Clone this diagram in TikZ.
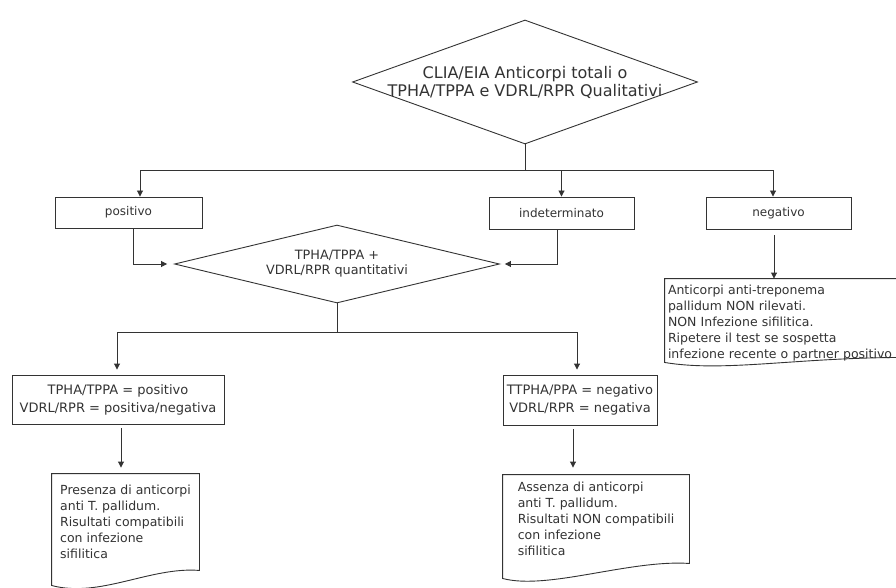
\documentclass[tikz,border=0pt]{standalone}
\usepackage{fontspec}
\setmainfont{DejaVu Sans}
\usetikzlibrary{shapes.geometric,arrows.meta}

\begin{document}
\begin{tikzpicture}[x=1pt,y=-1pt,line width=0.9pt,color=black!80,>={Triangle[length=6pt,width=6pt]}]
\tikzstyle{every node}+=[inner sep=0pt]
\tikzstyle{rombo}=[draw,diamond]
\tikzstyle{domanda}=[align=center,font=\fontsize{16}{18}\selectfont]
\tikzstyle{domanda2}=[align=center,font=\fontsize{12.8}{15}\selectfont]
\tikzstyle{casella}=[draw,rectangle,align=center,font=\fontsize{12}{15}\selectfont]
\tikzstyle{esito}=[draw,rectangle,align=center,font=\fontsize{13}{18}\selectfont]
\tikzstyle{foglio}=[rectangle,align=left,font=\fontsize{12.5}{16}\selectfont]
\clip (0,0) rectangle (896,588);
\fill[white] (0,0) rectangle (896,588);
\node (test) at (525,82) [rombo,minimum width=345pt,minimum height=124pt,
  label={[domanda]center:CLIA/EIA Anticorpi totali o\\TPHA/TPPA e VDRL/RPR Qualitativi}] {};
\node (pos) at (128.5,212.5) [casella,minimum width=147pt,minimum height=31pt] {positivo};
\node (ind) at (561.5,213) [casella,minimum width=145pt,minimum height=32pt] {indeterminato};
\node (negv) at (778.5,213) [casella,minimum width=145pt,minimum height=32pt] {negativo};
\node (quant) at (337,264) [rombo,minimum width=325pt,minimum height=78pt,
  label={[domanda2]center:TPHA/TPPA +\\VDRL/RPR quantitativi}] {};
\node (resPos) at (118,399.5) [esito,minimum width=212pt,minimum height=49pt] {TPHA/TPPA = positivo\\VDRL/RPR = positiva/negativa};
\node (resNeg) at (580,400) [esito,minimum width=154pt,minimum height=50pt] {TTPHA/PPA = negativo\\VDRL/RPR = negativa};
\node (nonRil) at (785,323.5) [foglio,text width=234pt,inner xsep=3pt,minimum height=89pt] {Anticorpi anti-treponema\\pallidum NON rilevati.\\NON Infezione sifilitica.\\Ripetere il test se sospetta\\infezione recente o partner positivo};
\node (presenza) at (125.5,522) [foglio,minimum width=147pt,minimum height=96pt] {Presenza di anticorpi\\anti T. pallidum.\\Risultati compatibili\\con infezione\\sifilitica};
\node (assenza) at (596,519) [foglio,minimum width=186pt,minimum height=88pt] {Assenza di anticorpi\\anti T. pallidum.\\Risultati NON compatibili\\con infezione\\sifilitica};
\draw (presenza.north west) -- (presenza.north east) -- (presenza.south east) .. controls +(-49,-4) and +(48,13) .. ([yshift=-15pt]presenza.south west) -- cycle;
\draw (assenza.north west) -- (assenza.north east) -- (assenza.south east) .. controls +(-60,-4) and +(45,12) .. ([yshift=-15pt]assenza.south west) -- cycle;
\draw ([yshift=11pt]nonRil.south east) .. controls +(-110,0) and +(60,10) .. ([yshift=6pt]nonRil.south west) -- (nonRil.north west) -- (nonRil.north east) -- cycle;
\coordinate (bivio) at (525,170);
\draw (test.south) -- (bivio);
\draw[->] (bivio) -| ([xshift=11.5pt]pos.north);
\draw[->] (bivio) -| (ind.north);
\draw[->] (bivio) -| ([xshift=-5.5pt]negv.north);
\draw[->,shorten >=7pt] ([xshift=4.5pt]pos.south) |- (quant.west);
\draw[->,shorten >=5pt] ([xshift=-4.5pt]ind.south) |- (quant.east);
\draw[->,shorten <=6pt] ([xshift=-4.5pt]negv.south) -- ([xshift=-11pt]nonRil.north);
\coordinate (bivio2) at (337,332);
\draw (quant.south) -- (bivio2);
\draw[->,shorten >=5pt] (bivio2) -| ([xshift=-1pt]resPos.north);
\draw[->,shorten >=5pt] (bivio2) -| ([xshift=-3pt]resNeg.north);
\draw[->,shorten <=4pt,shorten >=6pt] ([xshift=3pt]resPos.south) -- ([xshift=-4.5pt]presenza.north);
\draw[->,shorten <=4pt,shorten >=7pt] ([xshift=-7pt]resNeg.south) -- ([xshift=-23pt]assenza.north);
\end{tikzpicture}
\end{document}
